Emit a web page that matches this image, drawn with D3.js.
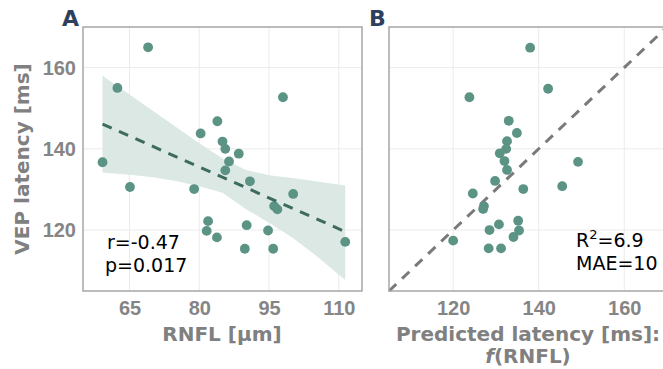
<!DOCTYPE html>
<html>
<head>
<meta charset="utf-8">
<script src="https://cdn.jsdelivr.net/npm/d3@7"></script>
<style>
  body { margin: 0; background: #fff; }
  svg { font-family: "DejaVu Sans", sans-serif; }
  .tick text { fill: #858585; font-weight: bold; font-size: 20px; }
  .domain { display: none; }
</style>
</head>
<body>
<div id="chart"></div>
<script>
// Panel A: RNFL thickness vs VEP latency
var rnfl = [69, 62.4, 59.2, 65.1, 80.3, 83.9, 85.0, 85.6, 88.5, 86.4, 85.6, 78.9, 90.9,
  98.0, 100.2, 96.1, 96.8, 81.9, 90.2, 81.6, 94.8, 83.8, 89.8, 95.9, 111.4];
var latencyA = [165, 155, 136.7, 130.6, 143.8, 146.8, 141.8, 140.0, 138.8, 136.9, 134.7, 130.1, 132.0,
  152.7, 128.9, 125.9, 125.1, 122.2, 121.2, 119.8, 119.9, 118.2, 115.4, 115.4, 117.1];

// Fit line end points and confidence band
var fitX = [59.2, 111.4];
var fitY = [146.1, 119.6];
var bandX = [59.2, 65, 70, 75, 80, 85, 90, 95, 100, 105, 111.4];
var bandUpper = [158.0, 153.4, 149.4, 145.4, 141.4, 137.6, 134.8, 133.5, 132.8, 132.0, 131.0];
var bandLower = [134.2, 133.6, 133.0, 132.1, 130.8, 129.2, 125.2, 121.8, 118.2, 113.8, 107.7];

// Panel B: predicted vs measured latency
var predicted = [138.0, 142.2, 123.8, 133.0, 134.9, 132.6, 132.4, 130.9, 132.0, 149.2, 132.6, 129.8,
  145.5, 124.6, 136.4, 127.2, 127.0, 130.7, 135.2, 128.5, 135.4, 134.1, 120.0, 128.3, 131.2];
var latencyB = [164.9, 154.8, 152.7, 146.9, 143.9, 141.9, 140.0, 138.9, 137.0, 136.8, 134.8, 132.1,
  130.8, 129.0, 130.1, 125.9, 125.2, 121.4, 122.3, 120.0, 119.9, 118.3, 117.4, 115.5, 115.5];

var ticksXA = [65, 80, 95, 110];
var ticksY = [120, 140, 160];
var ticksXB = [120, 140, 160];

var W = 663, H = 369;
var pointColor = "#5b9384";
var gridColor = "#ebebeb";
var boxColor = "#a6a6a6";

var svg = d3.select("#chart").append("svg")
  .attr("width", W)
  .attr("height", H);

var plotTop = 27, plotBottom = 291;

// ---------- Panel A ----------
var xA = d3.scaleLinear().domain([55, 115]).range([83, 362]);
var yA = d3.scaleLinear().domain([105, 170]).range([plotBottom, plotTop]);

var gA = svg.append("g");

// grid
gA.selectAll(".gx").data(ticksXA).enter().append("line")
  .attr("x1", function(d) { return xA(d); })
  .attr("x2", function(d) { return xA(d); })
  .attr("y1", plotTop).attr("y2", plotBottom)
  .attr("stroke", gridColor);
gA.selectAll(".gy").data(ticksY).enter().append("line")
  .attr("x1", xA.range()[0]).attr("x2", xA.range()[1])
  .attr("y1", function(d) { return yA(d); })
  .attr("y2", function(d) { return yA(d); })
  .attr("stroke", gridColor);

// confidence band
var bandData = bandX.map(function(x, i) {
  return { x: x, lo: bandLower[i], hi: bandUpper[i] };
});
gA.append("path")
  .datum(bandData)
  .attr("fill", "#dbe8e4")
  .attr("d", d3.area()
    .x(function(d) { return xA(d.x); })
    .y0(function(d) { return yA(d.lo); })
    .y1(function(d) { return yA(d.hi); }));

// points
gA.selectAll("circle").data(rnfl).enter().append("circle")
  .attr("cx", function(d) { return xA(d); })
  .attr("cy", function(d, i) { return yA(latencyA[i]); })
  .attr("r", 4.9)
  .attr("fill", pointColor);

// fit line
gA.append("line")
  .attr("x1", xA(fitX[0])).attr("y1", yA(fitY[0]))
  .attr("x2", xA(fitX[1])).attr("y2", yA(fitY[1]))
  .attr("stroke", "#3e6b5f")
  .attr("stroke-width", 3)
  .attr("stroke-dasharray", "10,8");

// box
gA.append("rect")
  .attr("x", 83).attr("y", plotTop)
  .attr("width", 362 - 83).attr("height", plotBottom - plotTop)
  .attr("fill", "none")
  .attr("stroke", boxColor)
  .attr("stroke-width", 1.5);

// axes
gA.append("g")
  .attr("transform", "translate(0," + plotBottom + ")")
  .call(d3.axisBottom(xA).tickValues(ticksXA).tickSize(0).tickPadding(10));
gA.append("g")
  .attr("transform", "translate(83,0)")
  .call(d3.axisLeft(yA).tickValues(ticksY).tickSize(0).tickPadding(7));

gA.append("text")
  .attr("x", 107).attr("y", 249)
  .attr("font-size", 19)
  .text("r=-0.47");
gA.append("text")
  .attr("x", 105).attr("y", 272)
  .attr("font-size", 19)
  .text("p=0.017");

gA.append("text")
  .attr("x", 222).attr("y", 341)
  .attr("text-anchor", "middle")
  .attr("font-size", 20).attr("font-weight", "bold")
  .attr("fill", "#808080")
  .text("RNFL [\u03bcm]");

gA.append("text")
  .attr("transform", "translate(29," + (plotTop + plotBottom) / 2 + ") rotate(-90)")
  .attr("text-anchor", "middle")
  .attr("font-size", 20).attr("font-weight", "bold")
  .attr("fill", "#808080")
  .text("VEP latency [ms]");

svg.append("text")
  .attr("x", 62).attr("y", 26)
  .attr("font-size", 22).attr("font-weight", "bold")
  .attr("fill", "#2f3f5e")
  .text("A");

// ---------- Panel B ----------
var xB = d3.scaleLinear().domain([105, 170]).range([389, 667]);
var yB = d3.scaleLinear().domain([105, 170]).range([plotBottom, plotTop]);

var gB = svg.append("g");

gB.selectAll(".gx").data(ticksXB).enter().append("line")
  .attr("x1", function(d) { return xB(d); })
  .attr("x2", function(d) { return xB(d); })
  .attr("y1", plotTop).attr("y2", plotBottom)
  .attr("stroke", gridColor);
gB.selectAll(".gy").data(ticksY).enter().append("line")
  .attr("x1", xB.range()[0]).attr("x2", xB.range()[1])
  .attr("y1", function(d) { return yB(d); })
  .attr("y2", function(d) { return yB(d); })
  .attr("stroke", gridColor);

// identity line
gB.append("line")
  .attr("x1", xB(105)).attr("y1", yB(105))
  .attr("x2", xB(170)).attr("y2", yB(170))
  .attr("stroke", "#7a7a7a")
  .attr("stroke-width", 3)
  .attr("stroke-dasharray", "10,8");

gB.selectAll("circle").data(predicted).enter().append("circle")
  .attr("cx", function(d) { return xB(d); })
  .attr("cy", function(d, i) { return yB(latencyB[i]); })
  .attr("r", 4.9)
  .attr("fill", pointColor);

gB.append("rect")
  .attr("x", 389).attr("y", plotTop)
  .attr("width", 667 - 389).attr("height", plotBottom - plotTop)
  .attr("fill", "none")
  .attr("stroke", boxColor)
  .attr("stroke-width", 1.5);

gB.append("g")
  .attr("transform", "translate(0," + plotBottom + ")")
  .call(d3.axisBottom(xB).tickValues(ticksXB).tickSize(0).tickPadding(10));

var r2 = gB.append("text")
  .attr("x", 576).attr("y", 247)
  .attr("font-size", 19);
r2.append("tspan").text("R");
r2.append("tspan").attr("dy", -8).attr("font-size", 13).text("2");
r2.append("tspan").attr("dy", 8).text("=6.9");

gB.append("text")
  .attr("x", 576).attr("y", 270)
  .attr("font-size", 19)
  .text("MAE=10");

gB.append("text")
  .attr("x", 528).attr("y", 341)
  .attr("text-anchor", "middle")
  .attr("font-size", 20).attr("font-weight", "bold")
  .attr("fill", "#808080")
  .text("Predicted latency [ms]:");

var fl = gB.append("text")
  .attr("x", 528).attr("y", 363)
  .attr("text-anchor", "middle")
  .attr("font-size", 20).attr("font-weight", "bold")
  .attr("fill", "#808080");
fl.append("tspan").attr("font-style", "italic").text("f");
fl.append("tspan").text("(RNFL)");

svg.append("text")
  .attr("x", 369).attr("y", 26)
  .attr("font-size", 22).attr("font-weight", "bold")
  .attr("fill", "#2f3f5e")
  .text("B");
</script>
</body>
</html>
